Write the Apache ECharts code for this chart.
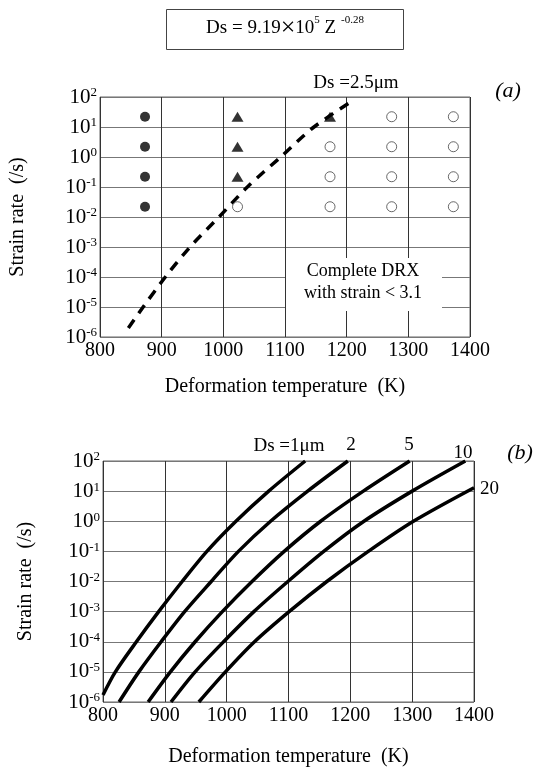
<!DOCTYPE html>
<html>
<head>
<meta charset="utf-8">
<script src="https://cdn.jsdelivr.net/npm/echarts@6/dist/echarts.min.js"></script>
<style>
  html, body { margin: 0; padding: 0; background: #fff; }
  #main { width: 537px; height: 769px; }
</style>
</head>
<body>
<div id="main"></div>
<script>
// x axis ticks (K) and y decades (/s)
const tempTicks = [800, 900, 1000, 1100, 1200, 1300, 1400];
const rateMin = 1e-6;
const rateMax = 100;

// (a) test conditions
const filledCircle = [[873, 22], [873, 2.2], [873, 0.22], [873, 0.022]];
const filledTriangle = [[1023, 22], [1023, 2.2], [1023, 0.22], [1173, 22]];
const openCircle = [
  [1023, 0.022],
  [1173, 2.2], [1173, 0.22], [1173, 0.022],
  [1273, 22], [1273, 2.2], [1273, 0.22], [1273, 0.022],
  [1373, 22], [1373, 2.2], [1373, 0.22], [1373, 0.022]
];

// (a) Ds = 2.5 um boundary
const ds25Temp = [846, 870, 906, 946, 993, 1039, 1093, 1147, 1209];
const ds25Rate = [2e-6, 1e-5, 1e-4, 1e-3, 1e-2, 0.1, 1, 10, 74];

// (b) grain size curves
const ds1Temp = [800, 820, 854, 890, 928, 968, 1015, 1068, 1127];
const ds1Rate = [1.7e-6, 1e-5, 1e-4, 1e-3, 1e-2, 0.1, 1, 10, 100];
const ds2Temp = [826, 858, 894, 932, 975, 1019, 1071, 1131, 1196];
const ds2Rate = [1e-6, 1e-5, 1e-4, 1e-3, 1e-2, 0.1, 1, 10, 100];
const ds5Temp = [873, 909, 949, 993, 1041, 1093, 1152, 1221, 1296];
const ds5Rate = [1e-6, 1e-5, 1e-4, 1e-3, 1e-2, 0.1, 1, 10, 100];
const ds10Temp = [910, 949, 995, 1044, 1099, 1157, 1222, 1300, 1386];
const ds10Rate = [1e-6, 1e-5, 1e-4, 1e-3, 1e-2, 0.1, 1, 10, 100];
const ds20Temp = [955, 998, 1045, 1101, 1162, 1229, 1302, 1400];
const ds20Rate = [1e-6, 1e-5, 1e-4, 1e-3, 1e-2, 0.1, 1, 13];

const FONT = '"Liberation Serif", "Times New Roman", serif';

function pairs(xs, ys) {
  return xs.map((x, i) => [x, ys[i]]);
}

function xAxisOf(gridIndex, nameGap) {
  return {
    type: 'value',
    gridIndex: gridIndex,
    min: tempTicks[0],
    max: tempTicks[tempTicks.length - 1],
    interval: 100,
    name: 'Deformation temperature  (K)',
    nameLocation: 'middle',
    nameGap: nameGap,
    nameTextStyle: { fontFamily: FONT, fontSize: 20, color: '#000' },
    axisLine: { show: false },
    axisTick: { show: false },
    axisLabel: {
      fontFamily: FONT, fontSize: 20, color: '#000', margin: 4,
      formatter: (v) => String(v)
    },
    splitLine: { show: true, lineStyle: { color: '#333', width: 1 } }
  };
}

function yAxisOf(gridIndex, nameGap) {
  return {
    type: 'log',
    logBase: 10,
    gridIndex: gridIndex,
    min: rateMin,
    max: rateMax,
    splitNumber: 8,
    name: 'Strain rate  (/s)',
    nameLocation: 'middle',
    nameGap: nameGap,
    nameRotate: 90,
    nameTextStyle: { fontFamily: FONT, fontSize: 20, color: '#000' },
    axisLine: { show: false },
    axisTick: { show: false },
    axisLabel: {
      margin: 3,
      formatter: function (v) {
        const e = Math.round(Math.log10(v));
        return '{b|10}{s|' + e + '}';
      },
      rich: {
        b: { fontFamily: FONT, fontSize: 21, color: '#000' },
        s: { fontFamily: FONT, fontSize: 13, color: '#000', verticalAlign: 'top' }
      }
    },
    splitLine: { show: true, lineStyle: { color: '#777', width: 1 } }
  };
}

function curve(temps, rates) {
  return {
    type: 'line',
    xAxisIndex: 1,
    yAxisIndex: 1,
    data: pairs(temps, rates),
    showSymbol: false,
    smooth: 0.3,
    lineStyle: { color: '#000', width: 3.5 },
    z: 5
  };
}

function label(text, x, y, size, extra) {
  return {
    type: 'text',
    x: x,
    y: y,
    z: 100,
    style: Object.assign({
      text: text,
      fontFamily: FONT,
      fontSize: size,
      fill: '#000',
      align: 'center',
      verticalAlign: 'middle'
    }, extra || {})
  };
}

const chart = echarts.init(document.getElementById('main'), null, { renderer: 'canvas' });

const option = {
  backgroundColor: '#fff',
  animation: false,
  grid: [
    { left: 99, top: 97, width: 371, height: 240, show: true, borderColor: '#666', borderWidth: 1, backgroundColor: 'transparent' },
    { left: 103, top: 461, width: 371, height: 241, show: true, borderColor: '#666', borderWidth: 1, backgroundColor: 'transparent' }
  ],
  xAxis: [xAxisOf(0, 40), xAxisOf(1, 45)],
  yAxis: [yAxisOf(0, 72), yAxisOf(1, 67)],
  series: [
    {
      type: 'scatter',
      xAxisIndex: 0, yAxisIndex: 0,
      data: filledCircle,
      symbol: 'circle',
      symbolSize: 10,
      itemStyle: { color: '#000' },
      z: 6
    },
    {
      type: 'scatter',
      xAxisIndex: 0, yAxisIndex: 0,
      data: filledTriangle,
      symbol: 'triangle',
      symbolSize: [12, 10],
      itemStyle: { color: '#000' },
      z: 6
    },
    {
      type: 'scatter',
      xAxisIndex: 0, yAxisIndex: 0,
      data: openCircle,
      symbol: 'circle',
      symbolSize: 10,
      itemStyle: { color: '#fff', borderColor: '#444', borderWidth: 1 },
      z: 6
    },
    {
      type: 'line',
      xAxisIndex: 0, yAxisIndex: 0,
      data: pairs(ds25Temp, ds25Rate),
      showSymbol: false,
      smooth: 0.3,
      lineStyle: { color: '#000', width: 3.5, type: [10, 8] },
      z: 5
    },
    curve(ds1Temp, ds1Rate),
    curve(ds2Temp, ds2Rate),
    curve(ds5Temp, ds5Rate),
    curve(ds10Temp, ds10Rate),
    curve(ds20Temp, ds20Rate)
  ],
  graphic: [
    // formula box
    {
      type: 'rect',
      shape: { x: 166.5, y: 9.5, width: 237, height: 40 },
      style: { fill: '#fff', stroke: '#444', lineWidth: 1 },
      z: 100
    },
    label('Ds = 9.19{x|×}10{s|5} Z {s|-0.28}', 285, 28, 19, {
      rich: {
        x: { fontFamily: FONT, fontSize: 26, fill: '#000' },
        s: { fontFamily: FONT, fontSize: 11, fill: '#000', verticalAlign: 'top' }
      }
    }),
    // (a) annotations
    label('Ds =2.5μm', 356, 83, 19),
    label('(a)', 508, 91, 22, { fontStyle: 'italic' }),
    {
      type: 'rect',
      shape: { x: 286, y: 258, width: 156, height: 53 },
      style: { fill: '#fff' },
      z: 90
    },
    label('Complete DRX', 363, 271, 18),
    label('with strain < 3.1', 363, 293, 18),
    // (b) annotations
    label('Ds =1μm', 289, 446, 19),
    label('2', 351, 445, 19),
    label('5', 409, 445, 19),
    label('10', 463, 453, 19),
    label('20', 480, 489, 19, { align: 'left' }),
    label('(b)', 520, 453, 22, { fontStyle: 'italic' })
  ]
};

chart.setOption(option);
</script>
</body>
</html>
